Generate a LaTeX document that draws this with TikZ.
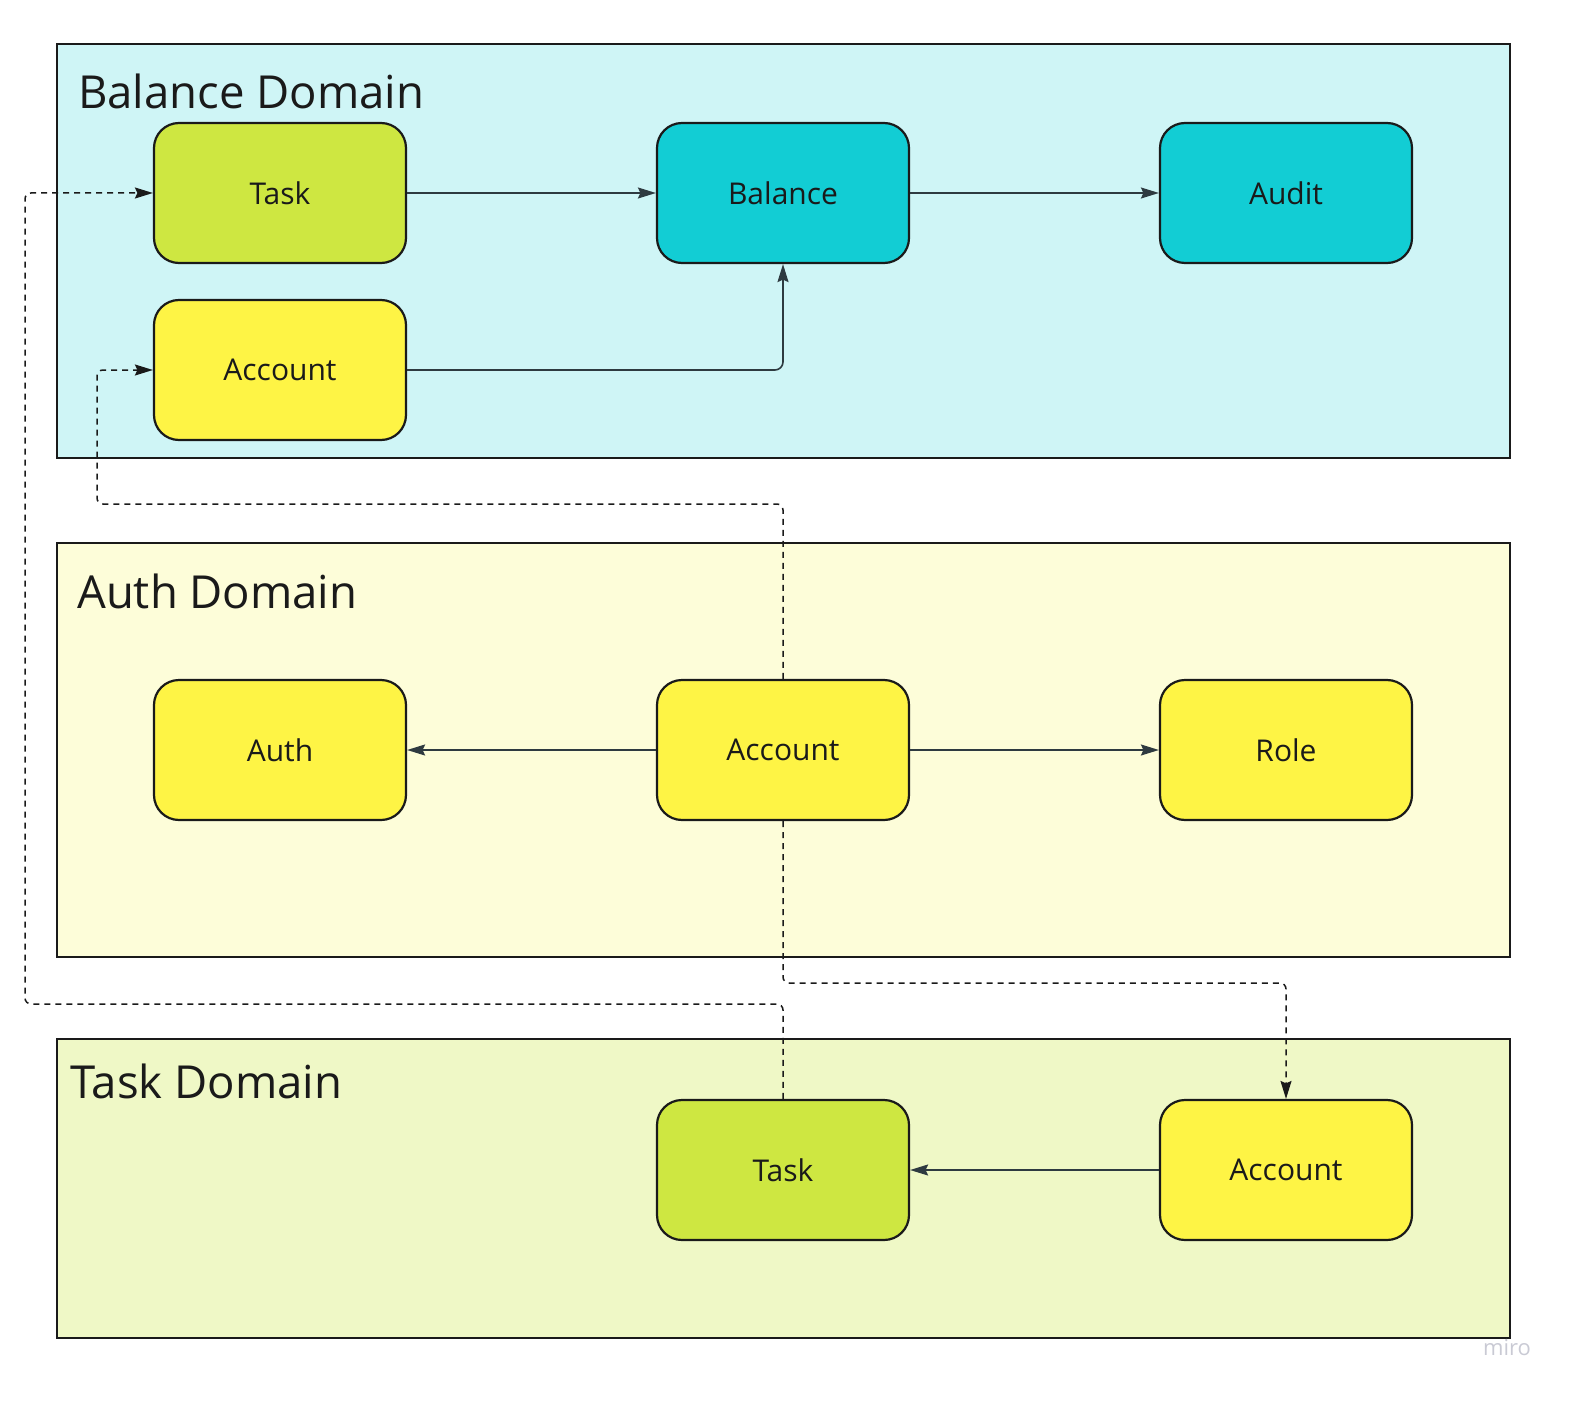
\documentclass[tikz,border=0pt]{standalone}
\usepackage{fontspec}
\setmainfont{Open Sans}
\usetikzlibrary{arrows.meta}
\definecolor{balbg}{HTML}{CFF5F6}
\definecolor{authbg}{HTML}{FDFDD9}
\definecolor{taskbg}{HTML}{EFF8C6}
\definecolor{lime}{HTML}{CEE741}
\definecolor{cyanbox}{HTML}{12CDD4}
\definecolor{yellowbox}{HTML}{FEF445}
\definecolor{ink}{HTML}{1A1A1A}
\definecolor{wire}{HTML}{2E3A40}
\definecolor{miroc}{HTML}{C9CAD4}
\begin{document}
\begin{tikzpicture}[x=1pt,y=-1pt,
  domainbox/.style={draw=ink,line width=2.5pt},
  card/.style={draw=ink,line width=2.2pt,rounded corners=25pt,minimum width=252pt,minimum height=140pt,inner sep=0pt,
    font=\fontsize{30}{36}\selectfont,text=ink},
  titletext/.style={anchor=west,inner sep=0pt,font=\fontsize{45.5}{54}\selectfont,text=ink},
  conn/.style={draw=wire,line width=1.6pt,-{Stealth[length=18pt,width=11pt,inset=2.5pt]},rounded corners=8pt},
  dconn/.style={draw=ink,line width=1.5pt,dash pattern=on 6pt off 5pt,-{Stealth[length=18pt,width=11pt,inset=2.5pt]},rounded corners=6pt}
]
\useasboundingbox (0,0) rectangle (1592,1412);
% domains
\draw[domainbox,fill=balbg] (57,44) rectangle (1510,458);
\draw[domainbox,fill=authbg] (57,543) rectangle (1510,957);
\draw[domainbox,fill=taskbg] (57,1039) rectangle (1510,1338);
\node[titletext] (tb) at (78,91) {Balance Domain};
\node[titletext] (ta) at (77,591) {Auth Domain};
\node[titletext] (tt) at (70,1081) {Task Domain};
% balance domain
\node[card,fill=lime] (taskB) at (280,193) {Task};
\node[card,fill=cyanbox] (bal) at (783,193) {Balance};
\node[card,fill=cyanbox] (audit) at (1286,193) {Audit};
\node[card,fill=yellowbox] (acctB) at (280,370) {Account};
% auth domain
\node[card,fill=yellowbox] (auth) at (280,750) {Auth};
\node[card,fill=yellowbox] (acctA) at (783,750) {Account};
\node[card,fill=yellowbox] (role) at (1286,750) {Role};
% task domain
\node[card,fill=lime] (taskT) at (783,1170) {Task};
\node[card,fill=yellowbox] (acctT) at (1286,1170) {Account};
% solid connectors
\draw[conn] (taskB) -- (bal);
\draw[conn] (bal) -- (audit);
\draw[conn] (acctB.east) -| (bal.south);
\draw[conn] (acctA) -- (auth);
\draw[conn] (acctA) -- (role);
\draw[conn] (acctT) -- (taskT);
% dashed connectors
\coordinate (w1) at (25,1004);
\coordinate (w2) at (97,504);
\coordinate (w3) at (1286,983);
\draw[dconn] (taskT.north) |- (w1) |- (taskB.west);
\draw[dconn] (acctA.north) |- (w2) |- (acctB.west);
\draw[dconn] (acctA.south) |- (w3) -- (acctT.north);
% watermark
\node[anchor=center,inner sep=0pt,text=miroc,font=\fontsize{22}{25}\selectfont] (miro) at (1507,1348) {miro};
\end{tikzpicture}
\end{document}
